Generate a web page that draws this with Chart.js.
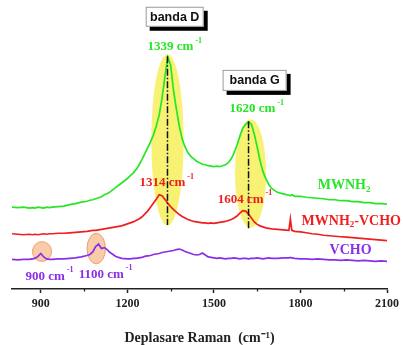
<!DOCTYPE html>
<html>
<head>
<meta charset="utf-8">
<script src="https://cdn.jsdelivr.net/npm/chart.js@4"></script>
<style>
  html, body { margin: 0; padding: 0; background: #fff; }
  canvas { display: block; }
</style>
</head>
<body>
<canvas id="raman" width="403" height="345"></canvas>
<script>
// Raman spectra, intensity in arbitrary units (curves are offset as in the figure)
const ramanShift = [
  800, 820, 840, 860, 870, 880, 890, 900, 910, 920, 930, 940, 960, 980, 1000, 1020, 1040,
  1060, 1070, 1080, 1090, 1100, 1110, 1120, 1130, 1140, 1160, 1180, 1200,
  1210, 1220, 1230, 1240, 1250, 1260, 1270, 1280, 1290, 1300, 1310, 1320, 1330, 1340, 1350,
  1360, 1370, 1380, 1390, 1400, 1410, 1420, 1430, 1440, 1450, 1460, 1470, 1480, 1490, 1500,
  1510, 1520, 1530, 1540, 1550, 1560, 1570, 1580, 1590, 1600, 1610, 1620, 1630, 1640, 1650,
  1660, 1670, 1680, 1690, 1700,
  1720, 1740, 1760, 1765, 1770, 1780, 1800, 1820, 1840, 1860, 1880, 1900, 1920, 1940, 1960,
  1980, 2000, 2020, 2040, 2060, 2080, 2100
];

const mwnh2 = [
  83, 82.5, 83, 82, 82.5, 82, 83, 82.5, 82, 83, 82.5, 83, 83.5, 84, 85.5, 86.5, 88,
  89, 90, 90.5, 91.5, 92.5, 93.5, 95.5, 96.5, 98.5, 103, 107.5, 112,
  115, 117.5, 121, 125.5, 131, 137, 143, 149, 156, 165, 176, 193, 215, 235, 227,
  201, 182, 165, 152, 144, 138, 134.5, 132, 129.5, 128, 126.5, 126, 125, 124.5, 124,
  124.5, 124, 125, 126, 128, 132, 138, 146, 155, 163, 167, 169.5, 167, 157, 144,
  130, 119, 112, 106, 102,
  98, 96.5, 95, 94.5, 95.5, 94, 94, 93, 92.5, 92, 91.5, 90.5, 90.5, 89.5, 89.5,
  88.5, 88.5, 87.5, 87.5, 86.5, 86.5, 86
];

const mwnh2Vcho = [
  56, 55.5, 55, 55.5, 55, 55.5, 55, 55.5, 56, 55.5, 56, 56, 56.5, 56.5, 57, 57.5, 58,
  58.5, 59, 59.5, 59.5, 60, 60.5, 61, 61.5, 62, 63, 64, 66,
  67, 68, 69.5, 71, 73, 76, 79, 83, 87, 91, 95.5, 94.5, 91, 87, 83.5,
  80.5, 78, 75.5, 73.5, 72, 70.5, 69.5, 68.5, 68, 67.5, 67, 67, 66.5, 67, 66.5,
  67, 67.5, 68, 68.5, 69.5, 70.5, 72, 74, 77, 79.5, 79, 76, 72, 68, 65.5,
  64, 63, 62, 61.5, 61,
  60.5, 60, 59.5, 71, 59.5, 58.5, 58, 57, 56, 55.5, 54.5, 54, 53.5, 53, 52.5,
  52, 51.5, 51, 50.5, 50, 49.5, 49
];

const vcho = [
  30, 29.5, 30, 30, 30.5, 31, 33, 36, 32.5, 30.5, 30, 30, 30.5, 30.5, 31, 31.5, 32.5,
  34, 35, 37.5, 43, 45.5, 41, 42, 40, 37, 33, 31, 30.5,
  30.5, 31, 31, 31.5, 32, 33, 33.5, 34, 35, 35.5, 36, 37, 37.5, 38, 38.5,
  39, 40, 40.5, 39.5, 38, 37, 36, 35, 34.5, 35, 36.5, 34.5, 32.5, 32, 31.5,
  31, 31.5, 31, 30.5, 31, 31, 31.5, 31, 30.5, 31, 31, 30.5, 31, 31, 31.5,
  31, 30.5, 31, 31.5, 31,
  31, 31.5, 31.5, 32, 31.5, 31, 30.5, 30.5, 30, 30.5, 30, 29.5, 29.5, 29, 29.5,
  29, 28.5, 29, 28.5, 28, 28.5, 28
];

const xTicks = [900, 1200, 1500, 1800, 2100];
const xMinorTicks = [1050, 1350, 1650, 1950];

const GREEN = '#26e626';
const RED = '#f01e1e';
const PURPLE = '#8a2ee8';
const SERIF = "'Liberation Serif', 'Times New Roman', serif";
const SANS = "'Liberation Sans', Arial, sans-serif";

function toPoints(values) {
  return ramanShift.map((x, i) => ({ x: x, y: values[i] }));
}

// peak markers, labels and band boxes, placed in data units
const annotations = {
  id: 'annotations',
  beforeDatasetsDraw(chart) {
    const { ctx, scales: { x, y } } = chart;
    ctx.save();
    // yellow band highlights
    ctx.fillStyle = 'rgba(246, 240, 90, 0.85)';
    [[1339, 151, 56, 87], [1627, 117, 54, 55]].forEach(([w, v, rw, rv]) => {
      const cx = x.getPixelForValue(w), cy = y.getPixelForValue(v);
      ctx.beginPath();
      ctx.ellipse(cx, cy, x.getPixelForValue(w + rw) - cx, cy - y.getPixelForValue(v + rv), 0, 0, Math.PI * 2);
      ctx.fill();
    });
    // orange VCHO highlights
    ctx.fillStyle = 'rgba(246, 185, 140, 0.75)';
    ctx.strokeStyle = 'rgba(235, 150, 100, 0.9)';
    ctx.lineWidth = 1;
    [[904, 38, 33, 10], [1092, 41, 32, 15.5]].forEach(([w, v, rw, rv]) => {
      const cx = x.getPixelForValue(w), cy = y.getPixelForValue(v);
      ctx.beginPath();
      ctx.ellipse(cx, cy, x.getPixelForValue(w + rw) - cx, cy - y.getPixelForValue(v + rv), 0, 0, Math.PI * 2);
      ctx.fill();
      ctx.stroke();
    });
    ctx.restore();
  },
  afterDatasetsDraw(chart) {
    const { ctx, scales: { x, y } } = chart;
    ctx.save();

    // dash-dot peak lines
    ctx.strokeStyle = '#111';
    ctx.lineWidth = 1.5;
    ctx.setLineDash([7, 2, 1.5, 2]);
    [[1339, 236, 65], [1620, 170, 61]].forEach(([w, top, bottom]) => {
      const px = x.getPixelForValue(w);
      ctx.beginPath();
      ctx.moveTo(px, y.getPixelForValue(top));
      ctx.lineTo(px, y.getPixelForValue(bottom));
      ctx.stroke();
    });
    ctx.setLineDash([]);

    // text made of runs: normal, superscript or subscript
    function runs(parts, w, v, color, size) {
      let px = x.getPixelForValue(w);
      const py = y.getPixelForValue(v);
      ctx.fillStyle = color;
      ctx.textBaseline = 'middle';
      ctx.textAlign = 'left';
      parts.forEach(p => {
        const small = p.sup || p.sub;
        const fs = small ? Math.round(size * 0.65) : size;
        ctx.font = `bold ${fs}px ${SERIF}`;
        const dy = p.sup ? -size * 0.45 : (p.sub ? size * 0.3 : 0);
        if (p.sup) px += 2;
        ctx.fillText(p.t, px, py + dy);
        px += ctx.measureText(p.t).width;
      });
    }

    runs([{ t: '1339 cm' }, { t: '-1', sup: true }], 1270, 246, GREEN, 13);
    runs([{ t: '1620 cm' }, { t: '-1', sup: true }], 1554, 183, GREEN, 13);
    runs([{ t: '1314 cm' }, { t: '-1', sup: true }], 1242, 108, RED, 13);
    runs([{ t: '1604 cm' }, { t: '-1', sup: true }], 1513, 91, RED, 13);
    runs([{ t: '900 cm' }, { t: '-1', sup: true }], 847, 13, PURPLE, 13);
    runs([{ t: '1100 cm' }, { t: '-1', sup: true }], 1031, 15, PURPLE, 13);

    runs([{ t: 'MWNH' }, { t: '2', sub: true }], 1860, 105, GREEN, 14);
    runs([{ t: 'MWNH' }, { t: '2', sub: true }, { t: '-VCHO' }], 1804, 69, RED, 14);
    runs([{ t: 'VCHO' }], 1901, 39, PURPLE, 14);

    // band boxes with drop shadow
    [['banda D', 1364, 276, 58, 20], ['banda G', 1641, 211.5, 64, 21]].forEach(([label, w, v, bw, bh]) => {
      const cx = x.getPixelForValue(w), cy = y.getPixelForValue(v);
      const left = cx - bw / 2, top = cy - bh / 2;
      ctx.fillStyle = '#000';
      ctx.fillRect(left + 4, top + 4, bw, bh);
      ctx.fillStyle = '#fff';
      ctx.fillRect(left, top, bw, bh);
      ctx.strokeStyle = '#9a9a9a';
      ctx.lineWidth = 1;
      ctx.strokeRect(left + 0.5, top + 0.5, bw - 1, bh - 1);
      ctx.fillStyle = '#111';
      ctx.font = `bold 12.5px ${SANS}`;
      ctx.textAlign = 'center';
      ctx.textBaseline = 'middle';
      ctx.fillText(label, cx, cy + 0.5);
    });

    ctx.restore();
  },
  afterDraw(chart) {
    // short minor ticks between the labelled ones
    const { ctx, scales: { x } } = chart;
    ctx.save();
    ctx.strokeStyle = '#222';
    ctx.lineWidth = 1.3;
    xMinorTicks.forEach(v => {
      const px = Math.round(x.getPixelForValue(v)) + 0.5;
      ctx.beginPath();
      ctx.moveTo(px, x.top);
      ctx.lineTo(px, x.top + 2.5);
      ctx.stroke();
    });
    ctx.restore();
  }
};

const ctx = document.getElementById('raman').getContext('2d');
new Chart(ctx, {
  type: 'line',
  data: {
    datasets: [
      { label: 'MWNH2', data: toPoints(mwnh2), borderColor: GREEN, borderWidth: 1.7, pointRadius: 0, tension: 0 },
      { label: 'MWNH2-VCHO', data: toPoints(mwnh2Vcho), borderColor: RED, borderWidth: 1.7, pointRadius: 0, tension: 0 },
      { label: 'VCHO', data: toPoints(vcho), borderColor: PURPLE, borderWidth: 1.7, pointRadius: 0, tension: 0 }
    ]
  },
  options: {
    responsive: false,
    animation: false,
    layout: { padding: { left: 12, right: 16, top: 0, bottom: 0 } },
    plugins: { legend: { display: false }, tooltip: { enabled: false } },
    scales: {
      x: {
        type: 'linear',
        min: 800,
        max: 2100,
        afterBuildTicks: scale => { scale.ticks = xTicks.map(v => ({ value: v })); },
        grid: { drawOnChartArea: false, drawTicks: true, tickLength: 4, tickColor: '#222', tickWidth: 1.5 },
        border: { display: true, color: '#222', width: 1.6 },
        ticks: {
          font: { family: SERIF, weight: 'bold', size: 12 },
          color: '#222',
          padding: 4,
          maxRotation: 0,
          autoSkip: false,
          callback: v => String(v)
        },
        title: {
          display: true,
          text: 'Deplasare Raman  (cm⁻¹)',
          font: { family: SERIF, weight: 'bold', size: 14, lineHeight: 1 },
          color: '#222',
          padding: { top: 15.6, bottom: 0 }
        }
      },
      y: { display: false, min: 0, max: 293 }
    }
  },
  plugins: [annotations]
});
</script>
</body>
</html>
